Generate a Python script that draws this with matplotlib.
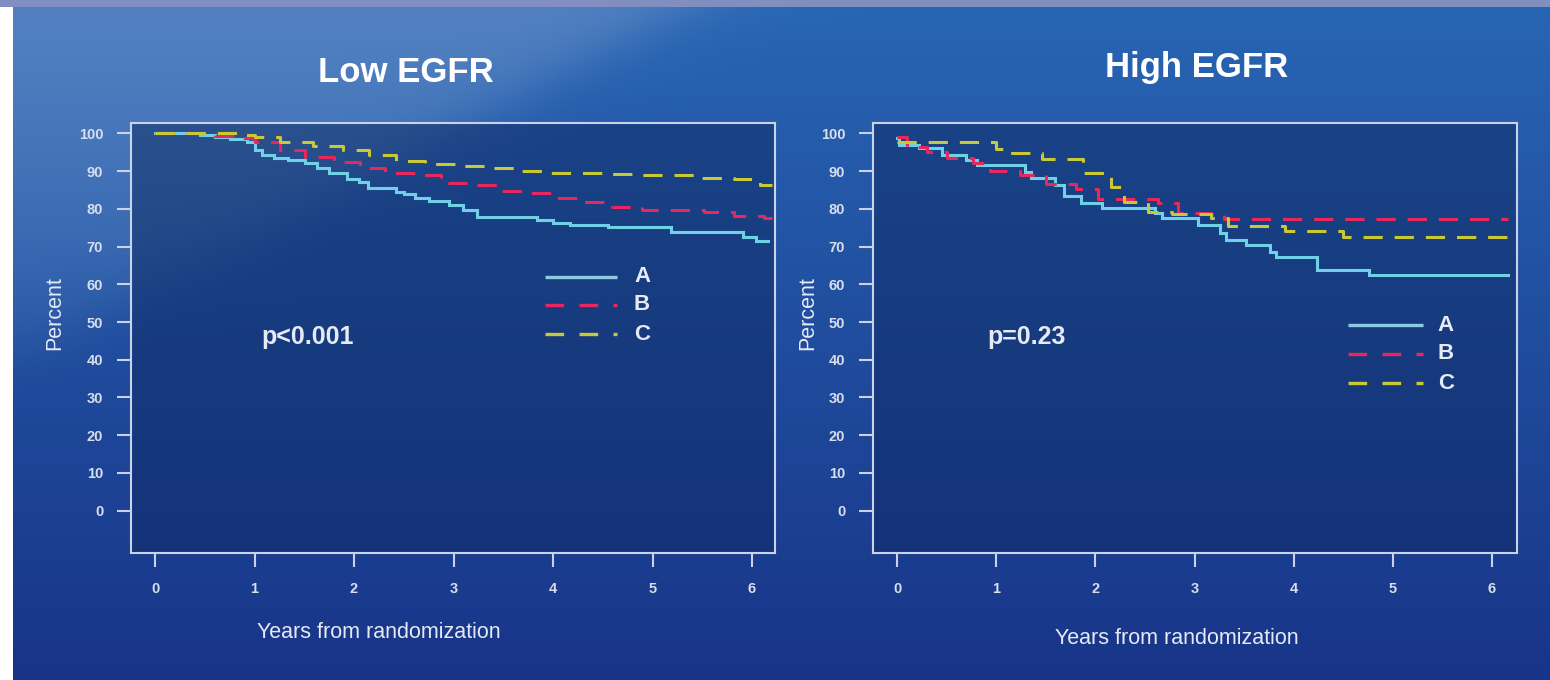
import numpy as np
import matplotlib
matplotlib.use("Agg")
import matplotlib.pyplot as plt

plt.rcParams['font.family'] = ['Liberation Sans', 'DejaVu Sans']

# ---------------- data ----------------
panel_titles = ["Low EGFR", "High EGFR"]
p_values = ["p<0.001", "p=0.23"]
series_names = ["A", "B", "C"]
x_ticks = [0, 1, 2, 3, 4, 5, 6]
y_ticks = [0, 10, 20, 30, 40, 50, 60, 70, 80, 90, 100]

# Low EGFR (step curves, last point = end of follow-up)
low_a_t = [0, 0.45, 0.6, 0.75, 0.92, 1.0, 1.08, 1.2, 1.34, 1.51, 1.63, 1.75, 1.93, 2.05, 2.14,
           2.42, 2.5, 2.61, 2.75, 2.95, 3.1, 3.24, 3.84, 4.0, 4.17, 4.55, 5.19, 5.91, 6.04, 6.16]
low_a_v = [100, 99.5, 99.0, 98.5, 97.7, 95.5, 94.2, 93.5, 92.8, 92.0, 90.7, 89.5, 88.0, 87.0, 85.4,
           84.5, 83.8, 82.8, 82.0, 80.9, 79.8, 77.8, 76.9, 76.2, 75.6, 75.1, 73.8, 72.5, 71.4, 71.4]
low_b_t = [0, 0.6, 0.8, 1.0, 1.26, 1.51, 1.8, 2.06, 2.31, 2.65, 2.87, 3.15, 3.45, 3.74, 4.04,
           4.3, 4.59, 4.89, 5.52, 5.82, 6.12, 6.2]
low_b_v = [100, 99.2, 98.8, 97.8, 95.5, 93.7, 92.4, 90.7, 89.5, 88.9, 86.8, 86.2, 84.7, 84.1, 82.8,
           81.8, 80.6, 79.8, 79.1, 78.2, 77.6, 77.6]
low_c_t = [0, 0.9, 1.0, 1.26, 1.59, 1.89, 2.15, 2.42, 2.71, 3.03, 3.33, 3.62, 3.93, 4.57, 4.89,
           5.49, 5.82, 6.08, 6.2]
low_c_v = [100, 99.5, 99.0, 97.7, 96.6, 95.5, 94.2, 92.7, 91.8, 91.4, 90.7, 89.9, 89.5, 89.3, 88.9,
           88.2, 88.0, 86.2, 86.2]

# High EGFR
high_a_t = [0, 0.02, 0.22, 0.45, 0.7, 0.81, 1.29, 1.35, 1.59, 1.68, 1.86, 2.07, 2.6, 2.67, 3.04,
            3.26, 3.32, 3.52, 3.76, 3.82, 4.24, 4.76, 6.16]
high_a_v = [98.7, 96.9, 96.0, 94.2, 92.9, 91.6, 89.8, 88.1, 86.3, 83.4, 81.4, 80.1, 78.8, 77.5, 75.7,
            73.5, 71.7, 70.4, 68.6, 67.3, 63.8, 62.5, 62.5]
high_b_t = [0, 0.1, 0.3, 0.5, 0.77, 0.94, 1.24, 1.5, 1.81, 2.03, 2.63, 2.83, 3.17, 3.3, 6.16]
high_b_v = [99.1, 96.5, 95.1, 93.4, 92.1, 90.1, 89.0, 86.5, 85.2, 82.6, 81.4, 78.8, 78.5, 77.2, 77.2]
high_c_t = [0, 1.0, 1.13, 1.46, 1.88, 2.16, 2.29, 2.53, 2.77, 3.17, 3.34, 3.91, 4.5, 6.16]
high_c_v = [97.8, 95.8, 94.7, 93.1, 89.4, 85.9, 81.7, 79.2, 78.6, 77.5, 75.4, 74.1, 72.4, 72.4]

panels = [
    [(low_a_t, low_a_v), (low_b_t, low_b_v), (low_c_t, low_c_v)],
    [(high_a_t, high_a_v), (high_b_t, high_b_v), (high_c_t, high_c_v)],
]

# ---------------- styling ----------------
W, H = 1550, 680
colors = ["#6fd0e6", "#e8285c", "#c9c936"]
legend_colors = ["#8fcbe0", "#e8285c", "#c9c936"]
dash_styles = [None, (6.3, 3.9), (6.3, 3.9)]
txt_col = "#e6eaf4"
spine_col = "#c9d2e6"

fig = plt.figure(figsize=(W / 100, H / 100), dpi=100)

# background gradient
yy, xx = np.mgrid[0:H, 0:W].astype(float)
top = np.array([40, 102, 180]) / 255
bot = np.array([24, 52, 136]) / 255
t = (yy / H)[..., None]
img = top * (1 - t) + bot * t
light = np.array([82, 128, 192]) / 255
m = 1 / (1 + np.exp(-(700 - (xx + 1.9 * yy)) / 35))
m = m * np.clip(1.05 - yy / 420, 0, 1)
img = img * (1 - m[..., None]) + light * m[..., None]
img[:7, :, :] = np.array([128, 142, 192]) / 255
img[7:, :13, :] = 1.0
bg = fig.add_axes([0, 0, 1, 1], zorder=-10)
bg.imshow(img, aspect='auto', extent=(0, W, H, 0), interpolation='bilinear')
bg.set_axis_off()


def fx(px):
    return px / W


def fy(py):
    return 1 - py / H


boxes = [(131, 775), (873, 1517)]
box_top, box_bot = 123, 553
xzero = [(155, 752), (897, 1492)]
y0_px, y100_px = 510.7, 133.3
title_pos = [(406, 72), (1197, 67)]
xlabel_pos = [(379, 633), (1177, 638)]
ylabel_pos = [(55, 313), (808, 313)]
pval_pos = [(0.203, 0.502), (0.177, 0.502)]
leg_x = [(0.643, 0.755, 0.781), (0.738, 0.854, 0.877)]
leg_y = [(0.642, 0.577, 0.509), (0.530, 0.463, 0.395)]

for i in range(2):
    L, R = boxes[i]
    ax = fig.add_axes([fx(L), fy(box_bot), (R - L) / W, (box_bot - box_top) / H])
    ax.set_facecolor((0.06, 0.16, 0.38, 0.5))
    x0p, x6p = xzero[i]
    ppy = (x6p - x0p) / 6
    ax.set_xlim((L - x0p) / ppy, (R - x0p) / ppy)
    ppv = (y0_px - y100_px) / 100
    ax.set_ylim((y0_px - box_bot) / ppv, (y0_px - box_top) / ppv)

    for k, (tt, vv) in enumerate(panels[i]):
        ln, = ax.step(tt, vv, where='post', color=colors[k], lw=2.2,
                      solid_joinstyle='miter')
        if dash_styles[k] is not None:
            ln.set_dashes(dash_styles[k])

    for s in ax.spines.values():
        s.set_color(spine_col)
        s.set_linewidth(1.5)
    ax.set_xticks(x_ticks)
    ax.set_yticks(y_ticks)
    ax.tick_params(axis='both', direction='out', length=10, width=1.5, color=spine_col,
                   labelcolor="#d9deec", labelsize=10.5)
    ax.tick_params(axis='y', pad=10)
    ax.tick_params(axis='x', pad=11)
    for lab in ax.get_xticklabels() + ax.get_yticklabels():
        lab.set_fontweight('bold')

    ax.text(pval_pos[i][0], pval_pos[i][1], p_values[i], transform=ax.transAxes,
            color=txt_col, fontsize=18, fontweight='bold', ha='left', va='center')

    x1, x2, xl = leg_x[i]
    for k in range(3):
        yk = leg_y[i][k]
        ln, = ax.plot([x1, x2], [yk, yk], transform=ax.transAxes, color=legend_colors[k],
                      lw=2.4, solid_capstyle='butt')
        if dash_styles[k] is not None:
            ln.set_dashes((5.6, 4.6))
        ax.text(xl, yk, series_names[k], transform=ax.transAxes, color=txt_col,
                fontsize=16, fontweight='bold', ha='left', va='center')

    fig.text(fx(title_pos[i][0]), fy(title_pos[i][1]), panel_titles[i], color="white",
             fontsize=25, fontweight='bold', ha='center', va='center')
    fig.text(fx(xlabel_pos[i][0]), fy(xlabel_pos[i][1]), "Years from randomization",
             color=txt_col, fontsize=15.5, ha='center', va='center')
    fig.text(fx(ylabel_pos[i][0]), fy(ylabel_pos[i][1]), "Percent", color=txt_col,
             fontsize=15.5, ha='center', va='center', rotation=90)

fig.savefig("out.png", dpi=100)
